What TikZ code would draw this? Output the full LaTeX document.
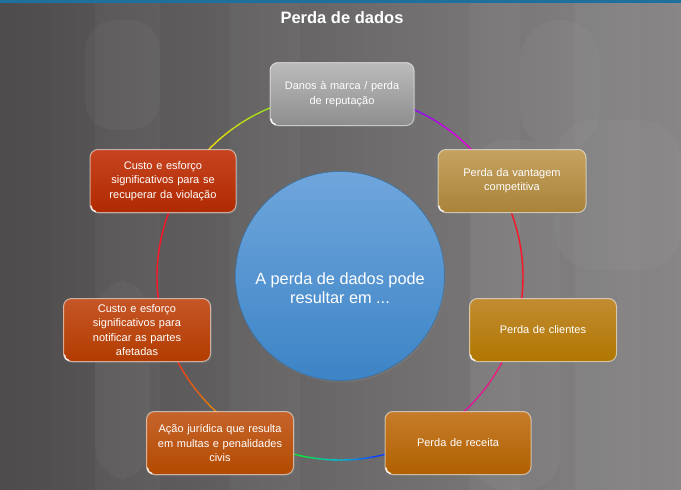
\documentclass[tikz,border=0pt]{standalone}
\usepackage{fontspec}
\setmainfont{Liberation Sans}
\usetikzlibrary{shadows}
\definecolor{bgL}{HTML}{4D4B4B}
\definecolor{bgR}{HTML}{888686}
\definecolor{topbar}{HTML}{1F6F9F}
\definecolor{cirT}{HTML}{6FA6DC}
\definecolor{cirB}{HTML}{3D84C6}
\definecolor{rViolet}{HTML}{7010FF}
\definecolor{rMagenta}{HTML}{E000E0}
\definecolor{rRed}{HTML}{FF1428}
\definecolor{rPink}{HTML}{E8207A}
\definecolor{rMag2}{HTML}{D010C0}
\definecolor{rBlue}{HTML}{1040FF}
\definecolor{rCyan}{HTML}{00C0D0}
\definecolor{rGreen}{HTML}{10E040}
\definecolor{rYellow}{HTML}{E8D810}
\definecolor{rOrange}{HTML}{E06010}
\definecolor{rYG}{HTML}{80E020}
\definecolor{gT}{HTML}{BBBBBB}\definecolor{gB}{HTML}{8E8E8E}
\definecolor{vT}{HTML}{C6A262}\definecolor{vB}{HTML}{A88338}
\definecolor{cT}{HTML}{C28C32}\definecolor{cB}{HTML}{B07600}
\definecolor{eT}{HTML}{C67C2A}\definecolor{eB}{HTML}{B06000}
\definecolor{jT}{HTML}{C6642C}\definecolor{jB}{HTML}{B24A00}
\definecolor{nT}{HTML}{C65628}\definecolor{nB}{HTML}{B23C00}
\definecolor{uT}{HTML}{C64420}\definecolor{uB}{HTML}{B02A00}
\begin{document}
\begin{tikzpicture}[x=1pt,y=-1pt,
  box/.style={rounded corners=8pt, minimum width=146pt, minimum height=63pt,
    text width=140pt, inner sep=0pt, text=white, align=center,
    font=\fontsize{11}{14.3}\selectfont,
    draw=white, draw opacity=0.55, line width=1pt,
    drop shadow={opacity=0.35, shadow xshift=1.5pt, shadow yshift=-1.5pt}},
  stripe/.style={fill=white, fill opacity=0.03},
  ringseg/.style={line width=1.4pt, line cap=butt}]
\useasboundingbox (0,0) rectangle (681,490);
% background
\shade[left color=bgL, right color=bgR] (0,0) rectangle (681,490);
\fill[stripe] (95,0) rectangle (160,490);
\fill[stripe] (230,0) rectangle (300,490);
\fill[stripe] (470,0) rectangle (520,490);
\fill[stripe] (575,0) rectangle (640,490);
\fill[stripe, rounded corners=30pt] (85,20) rectangle (160,130);
\fill[stripe, rounded corners=35pt] (95,280) rectangle (150,480);
\fill[stripe, rounded corners=35pt] (470,140) rectangle (560,490);
\fill[stripe, rounded corners=40pt] (555,120) rectangle (681,270);
\fill[stripe, rounded corners=40pt] (520,20) rectangle (600,150);
\fill[topbar] (0,0) rectangle (681,2.5);
% title
\node[text=white, font=\fontsize{16.5}{18}\selectfont\bfseries] (title) at (342,17.5) {Perda de dados};
% ring
\coordinate (R) at (340,277);
\foreach \a/\b/\ca/\cb in {-110/-72/rViolet/rViolet, -72/-48/rViolet/rMagenta, -48/-32/rMagenta/rRed,
   -32/12/rRed/rRed, 12/28/rRed/rPink, 28/60/rPink/rMag2, 60/78/rMag2/rBlue, 78/91/rBlue/rCyan,
   91/102/rCyan/rGreen, 102/118/rGreen/rYellow, 118/142/rYellow/rOrange, 142/160/rOrange/rRed,
   160/205/rRed/rRed, 205/225/rRed/rYellow, 225/255/rYellow/rYG, 255/272/rYG/rYG}{
  \foreach \i in {0,...,7}{
    \pgfmathsetmacro\s{\a+(\b-\a)*\i/8}
    \pgfmathsetmacro\e{\a+(\b-\a)*(\i+1)/8+0.3}
    \pgfmathtruncatemacro\p{100*\i/7}
    \draw[ringseg, color=\cb!\p!\ca] (R) ++(\s:183) arc[start angle=\s, end angle=\e, radius=183];
  }
}
% centre circle
\node[circle, minimum size=209pt, inner sep=0pt, top color=cirT, bottom color=cirB,
  draw=cirB!85!black, line width=0.5pt,
  drop shadow={opacity=0.4, shadow xshift=1.5pt, shadow yshift=-2pt}] (centre) at (340,276) {};
\node[text=white, align=center, font=\fontsize{16.3}{19.5}\selectfont] (centretext) at (340,288)
  {A perda de dados pode\\resultar em ...};
% boxes
\node[box, top color=gT, bottom color=gB, minimum width=144pt] (top) at (342,94) {Danos à marca / perda\\de reputação};
\node[box, top color=vT, bottom color=vB, minimum width=148pt] (vant) at (512,181) {Perda da vantagem\\competitiva};
\node[box, top color=cT, bottom color=cB, minimum width=147pt] (cli) at (543,330) {Perda de clientes};
\node[box, top color=eT, bottom color=eB] (rec) at (458,443) {Perda de receita};
\node[box, top color=jT, bottom color=jB, minimum width=147pt] (jur) at (220,443) {Ação jurídica que resulta\\em multas e penalidades\\civis};
\node[box, top color=nT, bottom color=nB, minimum width=147pt] (notif) at (137,330) {Custo e esforço\\significativos para\\notificar as partes\\afetadas};
\node[box, top color=uT, bottom color=uB] (recup) at (163,181) {Custo e esforço\\significativos para se\\recuperar da violação};
% corner highlights
\foreach \n in {top,vant,cli,rec,jur,notif,recup}{
  \draw[white, line width=1.3pt, line cap=round, opacity=0.9]
    ([xshift=1.5pt,yshift=7pt]\n.south west) to[bend right=40] ([xshift=6pt,yshift=1.5pt]\n.south west);
}
\end{tikzpicture}
\end{document}
